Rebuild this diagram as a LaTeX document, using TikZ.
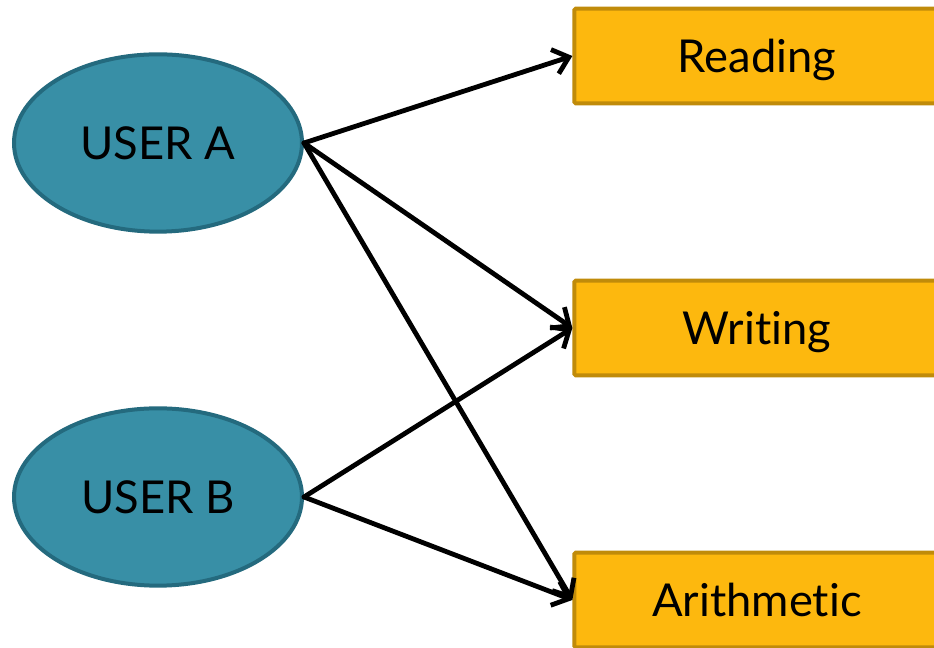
\documentclass[tikz,border=0pt]{standalone}
\usepackage{fontspec}
\setmainfont{Lato}[Ligatures=NoCommon]
\usetikzlibrary{shapes.geometric,arrows.meta}

\definecolor{userfill}{RGB}{56,143,166}
\definecolor{userline}{RGB}{36,106,126}
\definecolor{skillfill}{RGB}{253,184,14}
\definecolor{skillline}{RGB}{192,139,10}

\begin{document}
\begin{tikzpicture}[x=0.75pt,y=0.75pt]

 \tikzset{
    user/.style={ellipse, draw=userline, fill=userfill, line width=3pt,
      minimum width=216pt, minimum height=133pt, inner sep=0pt,
      font=\fontsize{34}{36}\selectfont},
    skill/.style={rectangle, draw=skillline, fill=skillfill, line width=3pt,
      rounded corners=1pt, minimum width=274pt, minimum height=71pt,
      inner sep=0pt, text depth=0pt, font=\fontsize{34}{36}\selectfont},
    link/.style={-{Straight Barb[length=11pt,width=19pt]}, line width=3.6pt,
      line cap=round, line join=round},
  }

  \useasboundingbox (0,0) rectangle (934,648);

  \node[user] (usera) at (158,505) {USER A};
  \node[user] (userb) at (158,151) {USER B};

  \node[skill] (reading)    at (757,592) {Reading};
  \node[skill] (writing)    at (757,320) {Writing};
  \node[skill] (arithmetic) at (757,48)  {Arithmetic};

  \draw[link] (usera.east) -- (reading.west);
  \draw[link] (usera.east) -- (writing.west);
  \draw[link] (usera.east) -- (arithmetic.west);
  \draw[link] (userb.east) -- (writing.west);
  \draw[link] (userb.east) -- (arithmetic.west);

\end{tikzpicture}
\end{document}
